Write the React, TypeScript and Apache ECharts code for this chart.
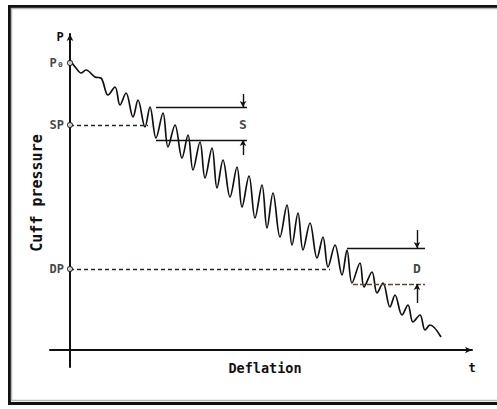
import React, { useEffect, useRef } from "react";
import * as echarts from "echarts";

// Cuff pressure oscillation during deflation (time units, pressure units)
const waveTime = [
  0.5, 1.5, 2.75, 4, 6.25, 7.75, 9.5, 11.25, 12.5, 14, 15.75, 17, 18.75, 20, 21.5, 23.25,
  24.5, 26.25, 28, 29.5, 30.75, 32.5, 33.75, 35.5, 36.75, 38.25, 40, 41.75, 43, 44.75,
  46.25, 48, 49.25, 50.75, 52.5, 54.25, 55.5, 57, 58.25, 60, 61.75, 63.25, 64.5, 66.25,
  68, 69.25, 70.5, 72.5, 73.5, 75.5, 76.75, 78.25, 80, 81.25, 83, 84.5, 85.75, 87.5,
  88.75, 90, 92.75,
];
const wavePressure = [
  143.5, 141, 138.5, 140, 136.5, 136, 127.5, 131.5, 122.5, 128.5, 116.5, 125, 111.5, 121.5, 106, 118.5,
  101.5, 112.5, 96, 107.5, 90, 104, 86, 101, 81, 95, 76.5, 91.5, 71.5, 87,
  66, 82.5, 61, 78.5, 56.5, 72.5, 52.5, 68.5, 50, 63.5, 46, 56.5, 41.5, 52.5,
  37.5, 50, 33.5, 43.5, 31.5, 39, 28.5, 33.5, 21.5, 27.5, 17.5, 22.5, 14, 17.5,
  10, 12.5, 6.5,
];

// Pressure levels marked on the axis
const levelNames = ["P\u2080", "SP", "DP"];
const levelValues = [143.5, 112.5, 40.5];
// where the dashed SP / DP guides meet the curve
const guideNames = ["SP", "DP"];
const guideValues = [112.5, 40.5];
const guideEnds = [19.5, 65];

// Amplitude brackets (S and D)
const bracketNames = ["S", "D"];
const bracketTopStart = [21.5, 69.25];
const bracketBottomStart = [21.5, 70.75];
const bracketEnd = [44.25, 88.75];
const bracketTop = [121.5, 51];
const bracketBottom = [105, 33];
const arrowX = [43.25, 86.75];
const arrowTopFrom = [128, 60];
const arrowBottomFrom = [97.5, 23.5];
const bracketLabelY = [113, 41];

const MONO = "'DejaVu Sans Mono', monospace";

export default function App() {
  const ref = useRef<HTMLDivElement>(null);

  useEffect(() => {
    if (!ref.current) return;
    const chart = echarts.init(ref.current, null, { renderer: "svg" });

    const ink = "#111";
    const markData: any[] = [];
    guideValues.forEach((v, i) => {
      const ls = { type: [4, 3], color: "#1d2440", width: 1.3 };
      markData.push([
        { coord: [0, v], lineStyle: ls },
        { coord: [guideEnds[i], v], lineStyle: ls },
      ]);
    });
    bracketNames.forEach((_, i) => {
      const solid = { type: "solid", color: ink, width: 1.4 };
      const lower = i === 1 ? { type: [5, 2], color: "#5a4a30", width: 1.3 } : solid;
      markData.push([
        { coord: [bracketTopStart[i], bracketTop[i]], lineStyle: solid },
        { coord: [bracketEnd[i], bracketTop[i]], lineStyle: solid },
      ]);
      markData.push([
        { coord: [bracketBottomStart[i], bracketBottom[i]], lineStyle: lower },
        { coord: [bracketEnd[i], bracketBottom[i]], lineStyle: lower },
      ]);
      markData.push([
        { coord: [arrowX[i], arrowTopFrom[i]], symbol: "none", lineStyle: solid },
        { coord: [arrowX[i], bracketTop[i]], symbol: "arrow", symbolSize: [5, 6], lineStyle: solid },
      ]);
      markData.push([
        { coord: [arrowX[i], arrowBottomFrom[i]], symbol: "none", lineStyle: solid },
        { coord: [arrowX[i], bracketBottom[i]], symbol: "arrow", symbolSize: [5, 6], lineStyle: solid },
      ]);
    });

    chart.setOption({
      animation: false,
      grid: { left: 50, right: 25, top: 34, bottom: 42, containLabel: false },
      xAxis: {
        type: "value",
        min: -5,
        max: 100.5,
        axisLine: {
          onZero: true,
          lineStyle: { color: ink, width: 2 },
          symbol: ["none", "arrow"],
          symbolSize: [5, 7],
        },
        axisTick: { show: false },
        axisLabel: { show: false },
        splitLine: { show: false },
      },
      yAxis: {
        type: "value",
        min: -8.5,
        max: 158,
        axisLine: {
          show: true,
          onZero: true,
          lineStyle: { color: ink, width: 2 },
          symbol: ["none", "arrow"],
          symbolSize: [5, 7],
        },
        axisTick: { show: false },
        axisLabel: { show: false },
        splitLine: { show: false },
      },
      series: [
        {
          type: "line",
          data: waveTime.map((t, i) => [t, wavePressure[i]]),
          smooth: 0.35,
          symbol: "none",
          lineStyle: { color: ink, width: 1.7 },
          markLine: {
            silent: true,
            symbol: ["none", "none"],
            label: { show: false },
            data: markData,
          },
          z: 3,
        },
        {
          type: "scatter",
          data: levelValues.map((v, i) => ({ name: levelNames[i], value: [0, v] })),
          symbol: "circle",
          symbolSize: 5,
          itemStyle: { color: "#fff", borderColor: ink, borderWidth: 1.2 },
          label: {
            show: true,
            position: "left",
            distance: 3,
            formatter: "{b}",
            fontFamily: MONO,
            fontWeight: "bold",
            fontSize: 12,
            color: ink,
          },
          z: 5,
        },
        {
          type: "scatter",
          data: bracketNames.map((n, i) => ({ name: n, value: [arrowX[i], bracketLabelY[i]] })),
          symbolSize: 1,
          itemStyle: { color: "transparent" },
          label: {
            show: true,
            position: "inside",
            formatter: "{b}",
            fontFamily: MONO,
            fontWeight: "bold",
            fontSize: 13,
            color: ink,
          },
          z: 5,
        },
      ],
      graphic: [
        {
          type: "rect",
          shape: { x: 9.5, y: 6.5, width: 500, height: 397 },
          style: { fill: "none", stroke: "#111", lineWidth: 3 },
          silent: true,
        },
        {
          type: "rect",
          shape: { x: 11.5, y: 8.5, width: 500, height: 392 },
          style: { fill: "none", stroke: "#b8b8b8", lineWidth: 1.5 },
          silent: true,
        },
        {
          type: "text",
          x: 60,
          y: 37,
          style: { text: "P", font: `bold 12px ${MONO}`, fill: ink, align: "center", verticalAlign: "middle" },
        },
        {
          type: "text",
          x: 472,
          y: 368,
          style: { text: "t", font: `bold 12px ${MONO}`, fill: ink, align: "center", verticalAlign: "middle" },
        },
        {
          type: "text",
          x: 265,
          y: 368,
          style: { text: "Deflation", font: `bold 13.5px ${MONO}`, fill: ink, align: "center", verticalAlign: "middle" },
        },
        {
          type: "text",
          x: 37,
          y: 193,
          rotation: Math.PI / 2,
          style: { text: "Cuff pressure", font: `bold 15px ${MONO}`, fill: ink, align: "center", verticalAlign: "middle" },
        },
      ],
    });

    return () => chart.dispose();
  }, []);

  return (
    <div
      ref={ref}
      style={{ position: "fixed", left: 0, top: 0, width: 497, height: 409, background: "#fff" }}
    />
  );
}
